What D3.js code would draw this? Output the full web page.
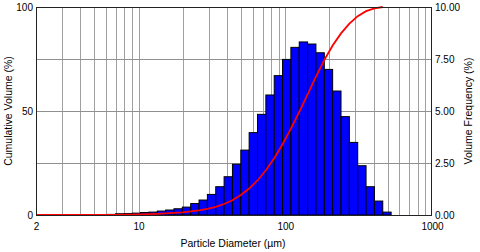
<!DOCTYPE html>
<html>
<head>
<meta charset="utf-8">
<script src="https://cdn.jsdelivr.net/npm/d3@7"></script>
<style>
  body { margin: 0; background: #fff; }
  svg text { font-family: "Liberation Sans", Arial, sans-serif; fill: #000; }
</style>
</head>
<body>
<div id="chart"></div>
<script>
// bin edges (um)
const binEdges = [4.70, 5.36, 6.11, 6.97, 7.94, 9.05, 10.32, 11.77, 13.41, 15.29, 17.43, 19.87,
  22.66, 25.83, 29.45, 33.57, 38.28, 43.64, 49.75, 56.72, 64.66, 73.72, 84.05, 95.8,
  109.2, 124.5, 142.0, 161.8, 184.5, 210.3, 239.8, 273.4, 311.7, 355.3, 405.1, 461.8, 526.5]
// volume frequency (%) per bin
const volFreq = [0.02, 0.02, 0.03, 0.06, 0.07, 0.09, 0.12, 0.14, 0.19, 0.24, 0.30, 0.38,
  0.55, 0.72, 0.99, 1.36, 1.84, 2.44, 3.12, 3.96, 4.84, 5.77, 6.70, 7.48,
  8.06, 8.32, 8.22, 7.80, 7.00, 5.96, 4.73, 3.49, 2.37, 1.36, 0.67, 0.14]
// cumulative curve
const cumSizes = [2, 4.70, 5.36, 6.11, 6.97, 7.94, 9.05, 10.32, 11.77, 13.41, 15.29, 17.43, 19.87,
  22.66, 25.83, 29.45, 33.57, 38.28, 43.64, 49.75, 56.72, 64.66, 73.72, 84.05, 95.8,
  109.2, 124.5, 142.0, 161.8, 184.5, 210.3, 239.8, 273.4, 311.7, 355.3, 405.1, 461.8]
const cumVol = [0, 0, 0.02, 0.04, 0.07, 0.13, 0.2, 0.3, 0.4, 0.55, 0.75, 1.0, 1.3,
  1.7, 2.2, 2.9, 3.9, 5.3, 7.1, 9.6, 12.7, 16.6, 21.5, 27.3, 34.0,
  41.5, 49.6, 58.0, 66.5, 74.5, 81.5, 87.3, 92.0, 95.6, 98.0, 99.3, 100]

const xTicks = [2, 10, 100, 1000]
const xGrid = [3, 4, 5, 6, 7, 8, 9, 10, 20, 30, 40, 50, 60, 70, 80, 90, 100, 200, 300, 400, 500, 600, 700, 800, 900]
const leftTicks = [0, 50, 100]
const rightTicks = [0, 2.5, 5, 7.5, 10]
const hGrid = [25, 50, 75]

let width = 480, height = 252
let mLeft = 36, mRight = 432, mTop = 7, mBottom = 215

let svg = d3.select("#chart").append("svg")
  .attr("width", width)
  .attr("height", height)

let x = d3.scaleLog().domain([2, 1000]).range([mLeft, mRight])
let yL = d3.scaleLinear().domain([0, 100]).range([mBottom, mTop])
let yR = d3.scaleLinear().domain([0, 10]).range([mBottom, mTop])

const crisp = v => Math.round(v) + 0.5

// grid
svg.append("g").selectAll("line")
  .data(xGrid)
  .enter().append("line")
  .attr("x1", d => crisp(x(d))).attr("x2", d => crisp(x(d)))
  .attr("y1", mTop).attr("y2", mBottom)
  .attr("stroke", "#a0a0a0")

svg.append("g").selectAll("line")
  .data(hGrid)
  .enter().append("line")
  .attr("x1", mLeft).attr("x2", mRight)
  .attr("y1", d => crisp(yL(d))).attr("y2", d => crisp(yL(d)))
  .attr("stroke", "#909090")

// histogram bars
svg.append("g").selectAll("rect")
  .data(volFreq)
  .enter().append("rect")
  .attr("x", (d, i) => x(binEdges[i]))
  .attr("width", (d, i) => x(binEdges[i + 1]) - x(binEdges[i]))
  .attr("y", d => yR(d))
  .attr("height", d => mBottom - yR(d))
  .attr("fill", "#0000ff")
  .attr("stroke", "#000")
  .attr("stroke-width", 1)

// cumulative line
let line = d3.line()
  .x((d, i) => x(cumSizes[i]))
  .y(d => yL(d))
svg.append("path")
  .datum(cumVol)
  .attr("d", line)
  .attr("fill", "none")
  .attr("stroke", "#ff0000")
  .attr("stroke-width", 1.8)

// frame
svg.append("rect")
  .attr("x", mLeft + 0.5).attr("y", mTop + 0.5)
  .attr("width", mRight - mLeft - 1).attr("height", mBottom - mTop)
  .attr("fill", "none")
  .attr("stroke", "#222")

// axes
let axL = d3.axisLeft(yL).tickValues(leftTicks).tickSize(0).tickPadding(3)
let gL = svg.append("g").attr("transform", `translate(${mLeft},0)`).call(axL)
let axR = d3.axisRight(yR).tickValues(rightTicks).tickSize(0).tickPadding(3).tickFormat(d3.format(".2f"))
let gR = svg.append("g").attr("transform", `translate(${mRight},0)`).call(axR)
let axB = d3.axisBottom(x).tickValues(xTicks).tickSize(0).tickPadding(8).tickFormat(d3.format("d"))
let gB = svg.append("g").attr("transform", `translate(0,${mBottom})`).call(axB)
;[gL, gR, gB].forEach(g => {
  g.select(".domain").remove()
  g.selectAll("text").attr("font-size", 10).style("font-family", '"Liberation Sans", Arial, sans-serif')
})

// titles
svg.append("text")
  .attr("x", (mLeft + mRight) / 2 - 1).attr("y", 247)
  .attr("text-anchor", "middle").attr("font-size", 10.5)
  .text("Particle Diameter (µm)")
svg.append("text")
  .attr("transform", "translate(8,111) rotate(-90)")
  .attr("dy", "0.35em")
  .attr("text-anchor", "middle").attr("font-size", 10.5)
  .text("Cumulative Volume (%)")
svg.append("text")
  .attr("transform", "translate(468,111) rotate(-90)")
  .attr("dy", "0.35em")
  .attr("text-anchor", "middle").attr("font-size", 10.5)
  .text("Volume Frequency (%)")
</script>
</body>
</html>
